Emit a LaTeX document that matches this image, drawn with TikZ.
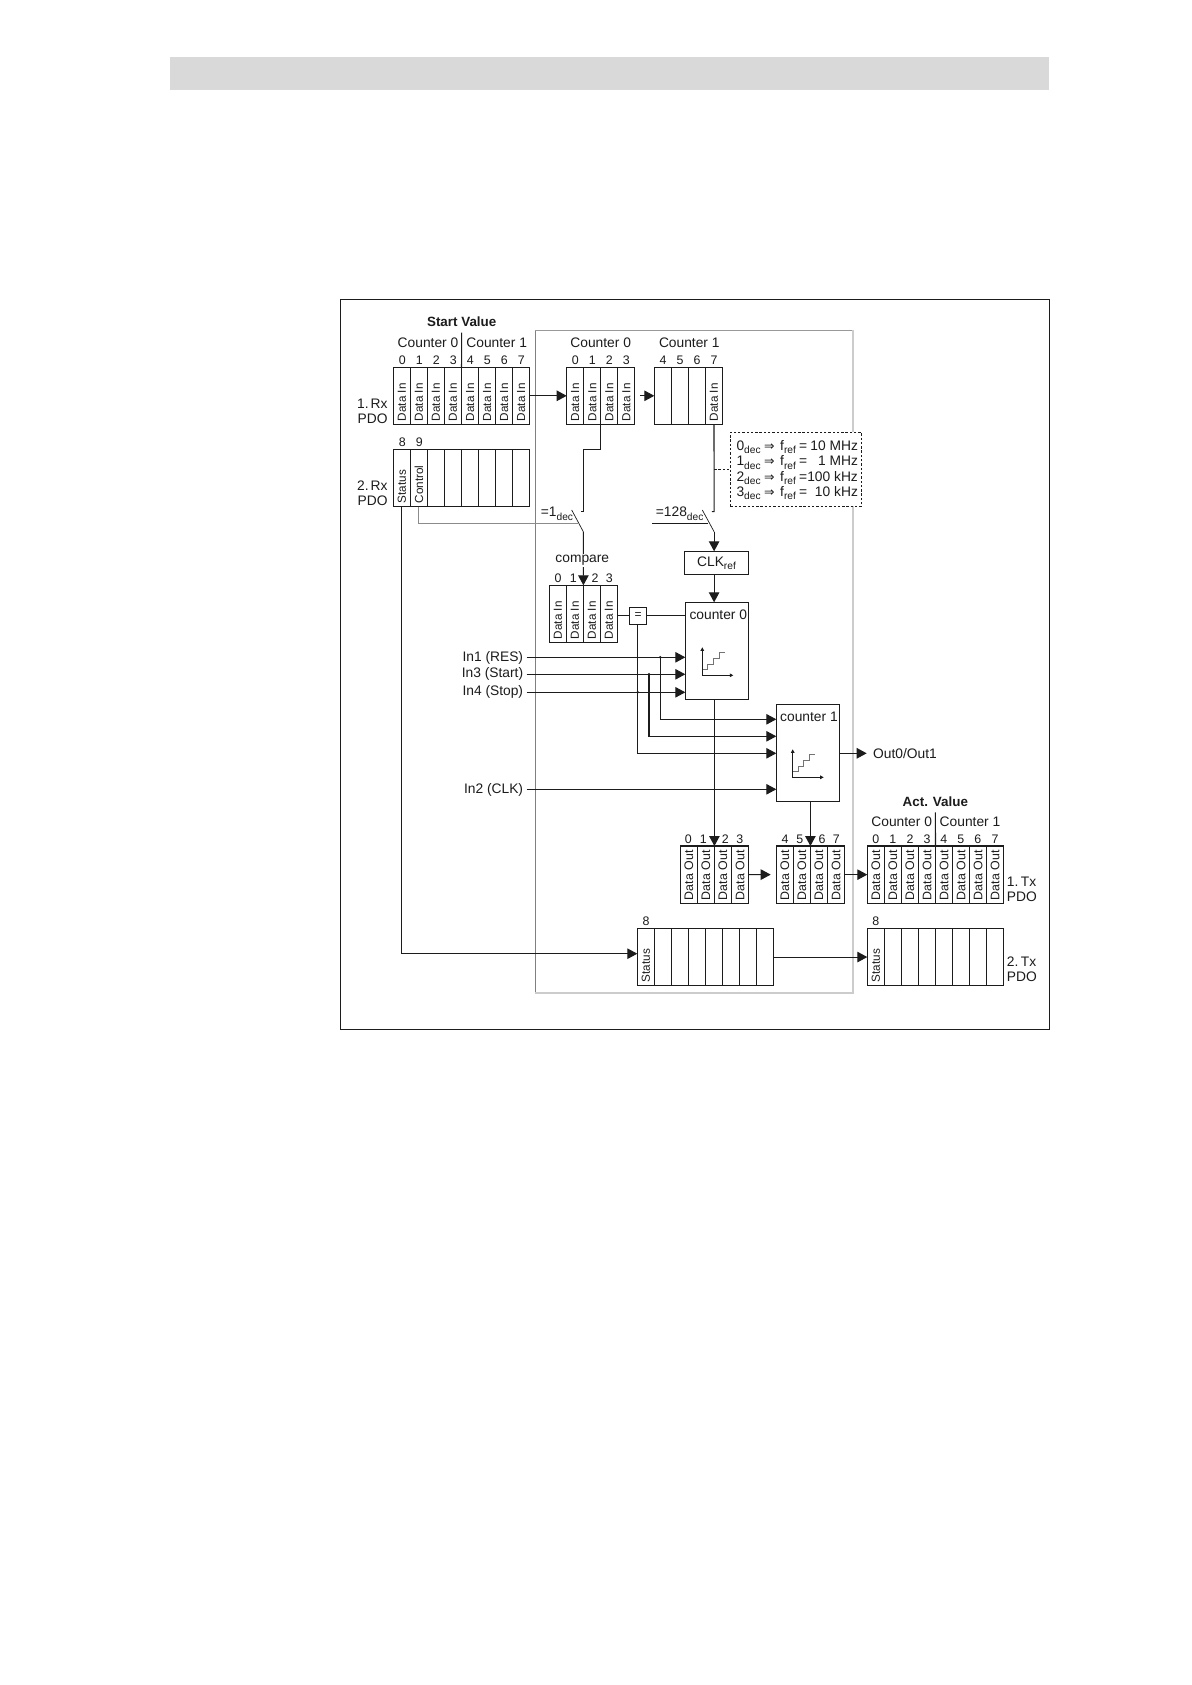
\documentclass[tikz,border=0pt]{standalone}
\usepackage{fontspec}
\setmainfont{Liberation Sans}
\newfontfamily\symfont{DejaVu Sans}
\usetikzlibrary{arrows.meta,calc}
\definecolor{ink}{HTML}{1C1C1C}
\newcommand{\fs}[1]{\fontsize{#1}{#1}\selectfont}
\newcommand{\subt}[1]{\raisebox{-3.4pt}{\fs{10.2}#1}}
\tikzset{
  line/.style={draw=ink,line width=1.05pt},
  arr/.style={line,-{Triangle[length=10pt,width=10.5pt]}},
  thin line/.style={draw=ink,line width=.7pt},
  cellbox/.style={draw=ink,line width=1.05pt,inner sep=0pt,outer sep=0pt,minimum width=17.05pt,anchor=north west},
  celltext/.style={text=ink,inner sep=0pt,rotate=90,anchor=west},
  digit/.style={text=ink,inner sep=0pt,anchor=base,font=\fs{12.4}},
  lab/.style={text=ink,inner sep=0pt,anchor=base,font=\fs{13.8}},
  labw/.style={lab,anchor=base west},
  labe/.style={lab,anchor=base east},
  head/.style={lab,font=\fs{13.4}\bfseries},
  twolinee/.style={text=ink,inner sep=0pt,anchor=east,align=right,font=\fontsize{13.8}{15}\selectfont},
  twolinew/.style={text=ink,inner sep=0pt,anchor=west,align=left,font=\fontsize{13.8}{15}\selectfont},
  block/.style={draw=ink,line width=1.05pt,inner sep=0pt,outer sep=0pt,anchor=north west,text=ink,font=\fs{13.8}},
  dot/.style={circle,fill=ink,inner sep=0pt,minimum size=2.8pt},
}
% name, x, y, height, list index/text
\newcommand{\celltbl}[6][11.7]{%
  \foreach \i/\t in {#6}{%
    \node[cellbox,minimum height=#5pt] (#2-\i) at ({#3+\i*17.05},#4) {};
    \node[celltext,font=\fs{#1}] (#2-t\i) at ({#3+(\i+.5)*17.05},{#4+#5-3}) {\t};
  }}
% name, baseline, list x/digit
\newcommand{\digitrow}[3]{%
  \foreach \x/\d in {#3}{\node[digit] (#1-\d) at (\x,#2) {\d};}}
% staircase chart at offset
\newcommand{\minichart}[2]{%
  \begin{scope}[shift={(#1,#2)}]
    \draw[draw=black!55,line width=.9pt] (702.3,669.7) -- (707.7,669.7) -- (707.7,664) -- (713.3,664) -- (713.3,658.3) -- (719,658.3) -- (719,652.7) -- (725,652.7);
    \draw[draw=ink,line width=.8pt,{Triangle[length=3.5pt,width=3.5pt]}-{Triangle[length=3.5pt,width=3.5pt]}] (702.3,647.3) -- (702.3,675.3) -- (733.3,675.3);
  \end{scope}}
\newcommand{\frow}[4]{%
  \node[labw] (#1) at (736.3,#2) {\hbox to 121.4pt{\rlap{#3\subt{dec}}\hskip 27.7pt\rlap{\symfont\fs{12.5}⇒}\hskip 16pt\rlap{f\subt{ref}}\hskip 19pt=\hfill #4}};}
\begin{document}
\begin{tikzpicture}[x=1pt,y=-1pt]
\useasboundingbox[fill=white] (0,0) rectangle (1191,1685);
% page band and frame
\fill[fill=black!15] (170,57) rectangle (1049,90.5);
\draw[draw=ink,line width=1pt] (340.5,299.5) rectangle (1049,1029);
% inner grey box
\draw[draw=black!50,line width=.9pt] (535,993) -- (535,330);
\draw[draw=black!40,line width=1pt] (535,330) -- (853,330);
\draw[draw=black!20,line width=1.6pt] (853,330) -- (853,993) -- (535,993);

% tables
\celltbl{rxa}{393.3}{367.3}{57}{0/Data In,1/Data In,2/Data In,3/Data In,4/Data In,5/Data In,6/Data In,7/Data In}
\celltbl{rxb}{393.3}{449.5}{57}{0/Status,1/Control,2/,3/,4/,5/,6/,7/}
\celltbl{ina}{566.7}{367.3}{57}{0/Data In,1/Data In,2/Data In,3/Data In}
\celltbl{inb}{654.3}{367.3}{57}{0/,1/,2/,3/Data In}
\celltbl{cmp}{549.3}{585.3}{57}{0/Data In,1/Data In,2/Data In,3/Data In}
\celltbl[12.4]{ouo}{680.3}{846}{57.3}{0/Data Out,1/Data Out,2/Data Out,3/Data Out}
\celltbl[12.4]{oup}{776.3}{846}{57.3}{0/Data Out,1/Data Out,2/Data Out,3/Data Out}
\celltbl[12.4]{txa}{867.3}{846}{57.3}{0/Data Out,1/Data Out,2/Data Out,3/Data Out,4/Data Out,5/Data Out,6/Data Out,7/Data Out}
\celltbl{sta}{637.3}{928.7}{56.7}{0/Status,1/,2/,3/,4/,5/,6/,7/}
\celltbl{txb}{867.3}{928.7}{56.7}{0/Status,1/,2/,3/,4/,5/,6/,7/}

% digits
\digitrow{drxa}{364}{402.3/0,419.3/1,436.3/2,453.3/3,470.3/4,487.3/5,504.3/6,521.3/7}
\digitrow{drxb}{446}{402.3/8,419.3/9}
\digitrow{dina}{364}{575.3/0,592.3/1,609.3/2,626.3/3}
\digitrow{dinb}{364}{663/4,680/5,697/6,714/7}
\digitrow{dcmp}{582.3}{558/0,573.3/1,595/2,609.3/3}
\digitrow{douo}{843.3}{688.3/0,703.3/1,725.3/2,739.7/3}
\digitrow{doup}{843.3}{785/4,799.7/5,822/6,836.3/7}
\digitrow{dtxa}{843.3}{875.7/0,892.7/1,910/2,927/3,943.7/4,960.7/5,977.7/6,995/7}
\digitrow{dsta}{925.3}{646/8}
\digitrow{dtxb}{925.3}{875.7/8}

% headings
\node[head] (startv) at (461.7,326.3) {Start Value};
\node[head] (actv) at (935.3,806.7) {Act. Value};
\node[lab] (hc0a) at (428,347.3) {Counter 0};
\node[lab] (hc1a) at (496.7,347.3) {Counter 1};
\node[lab] (hc0b) at (600.7,347.3) {Counter 0};
\node[lab] (hc1b) at (689.3,347.3) {Counter 1};
\node[lab] (hc0c) at (901.7,826.7) {Counter 0};
\node[lab] (hc1c) at (970,826.7) {Counter 1};
\coordinate (sepa) at (461.7,332.7);
\coordinate (sepb) at (935.4,812.3);
\draw[line] (sepa) -- (rxa-4.north west);
\draw[line] (sepb) -- (txa-4.north west);

\node[twolinee] (rxalab) at (387.7,410.9) {1.\hskip 2pt Rx\\PDO};
\node[twolinee] (rxblab) at (387.7,493) {2.\hskip 2pt Rx\\PDO};
\node[twolinew] (txalab) at (1006.7,889.5) {1.\hskip 2.5pt Tx\\PDO};
\node[twolinew] (txblab) at (1006.7,968.8) {2.\hskip 2.5pt Tx\\PDO};

% blocks
\node[block,minimum width=64.4pt,minimum height=23pt] (clk) at (684.3,551.3) {CLK\raisebox{-3pt}{\fs{10.2}ref}};
\node[block,minimum width=63pt,minimum height=97pt] (cnta) at (685.3,602.3) {};
\node[block,minimum width=63pt,minimum height=97pt] (cntb) at (776.3,704.3) {};
\node[block,minimum width=17.4pt,minimum height=17pt,font=\fs{12}] (eq) at (629.3,607.3) {=};
\node[labw] (cntal) at (689.3,619.3) {counter 0};
\node[labw] (cntbl) at (780,721.3) {counter 1};
\minichart{0}{0}
\minichart{90.4}{102}

% frequency table
\node[block,dash pattern=on 2.4pt off 1.9pt,fill=white,minimum width=131.4pt,minimum height=74pt] (fbox) at (730.3,432.3) {};
\frow{fa}{450}{0}{10 MHz}
\frow{fb}{465.7}{1}{1 MHz}
\frow{fc}{481}{2}{100 kHz}
\frow{fd}{496.3}{3}{10 kHz}

% switches
\coordinate (swat) at (583.3,511.7);
\coordinate (swatick) at (581,511.7);
\coordinate (swaa) at (571.7,510);
\coordinate (swab) at (583.3,531.7);
\coordinate (ctlend) at (578,523.3);
\coordinate (swbt) at (714.1,511.7);
\coordinate (swbtick) at (711.8,511.7);
\coordinate (swba) at (702.3,510);
\coordinate (swbb) at (714.1,531.7);
\coordinate (swbin) at (652,523.3);
\coordinate (swbinend) at (708,523.3);
\coordinate (fjoin) at (714.1,469);
\node[labw] (eqone) at (540.7,516.7) {=1\subt{dec}};
\node[labw] (eqtwo) at (655.7,516.7) {=128\subt{dec}};

\draw[line] (ina-2.south west) -- ++(0,25) -| (swat) -- (swatick);
\draw[thin line] (swaa) -- (swab);
\draw[arr] (swab) -- (cmp-2.north west);
\node[lab,fill=white,inner ysep=1.5pt,inner xsep=0pt] (cmpl) at (582.3,562.7) {compare};
\draw[draw=black!45,line width=1pt] (rxb-1.south) |- (ctlend);
\draw[line] (inb-3.south) -- (swbt) -- (swbtick);
\draw[thin line] (swba) -- (swbb);
\draw[line] (swbin) -- (swbinend);
\draw[arr] (swbb) -- (clk.north -| swbb);
\draw[line,dash pattern=on 2.4pt off 1.9pt,line width=.9pt] (fjoin) -- (fbox.west |- fjoin);
\draw[arr] (clk.south -| swbb) -- (cnta.north -| swbb);

% top row arrows
\coordinate (inbarrow) at (640,395.8);
\draw[arr] (rxa-7.east) -- (ina-0.west);
\draw[arr] (inbarrow) -- (inb-0.west);

% compare to equal to counter
\draw[line] (cmp-3.east |- eq.west) -- (eq.west);
\draw[line] (eq.east) -- (cnta.west |- eq.east);

% inputs
\node[labe] (ina1) at (523.3,661.7) {In1 (RES)};
\node[labe] (ina3) at (523.3,677.3) {In3 (Start)};
\node[labe] (ina4) at (523.3,695.7) {In4 (Stop)};
\node[labe] (ina2) at (523.3,793.7) {In2 (CLK)};
\coordinate (sa1) at (526.7,657.3);
\coordinate (sa3) at (526.7,674.3);
\coordinate (sa4) at (526.7,692.3);
\coordinate (sa2) at (526.7,789.3);
\draw[arr] (sa1) -- (cnta.west |- sa1);
\draw[arr] (sa3) -- (cnta.west |- sa3);
\draw[arr] (sa4) -- (cnta.west |- sa4);
\draw[arr] (sa2) -- (cntb.west |- sa2);
\node[dot] (ja) at (660.3,657.3) {};
\node[dot] (jb) at (649,674.3) {};
\node[dot] (jc) at (637.7,692.3) {};
\coordinate (ra) at (776.3,719.3);
\coordinate (rb) at (776.3,736.3);
\coordinate (rc) at (776.3,753.3);
\draw[arr] (ja.center) |- (ra);
\draw[arr] (jb.center) |- (rb);
\draw[arr] (eq.south -| jc) |- (rc);

% counter outputs
\draw[arr] (ouo-2.north west |- cnta.south) -- (ouo-2.north west);
\draw[arr] (oup-2.north west |- cntb.south) -- (oup-2.north west);
\coordinate (outend) at (866.7,753.3);
\node[labw] (outl) at (873,758) {Out0/Out1};
\draw[arr] (rc -| cntb.east) -- (outend);
\coordinate (oupin) at (770.7,874.6);
\draw[arr] (ouo-3.east) -- (oupin);
\draw[arr] (oup-3.east) -- (txa-0.west);

% status path
\coordinate (stin) at (637.3,953.7);
\draw[arr] (rxb-0.south) |- (stin);
\draw[arr] (sta-7.east) -- (txb-0.west);
\end{tikzpicture}
\end{document}
